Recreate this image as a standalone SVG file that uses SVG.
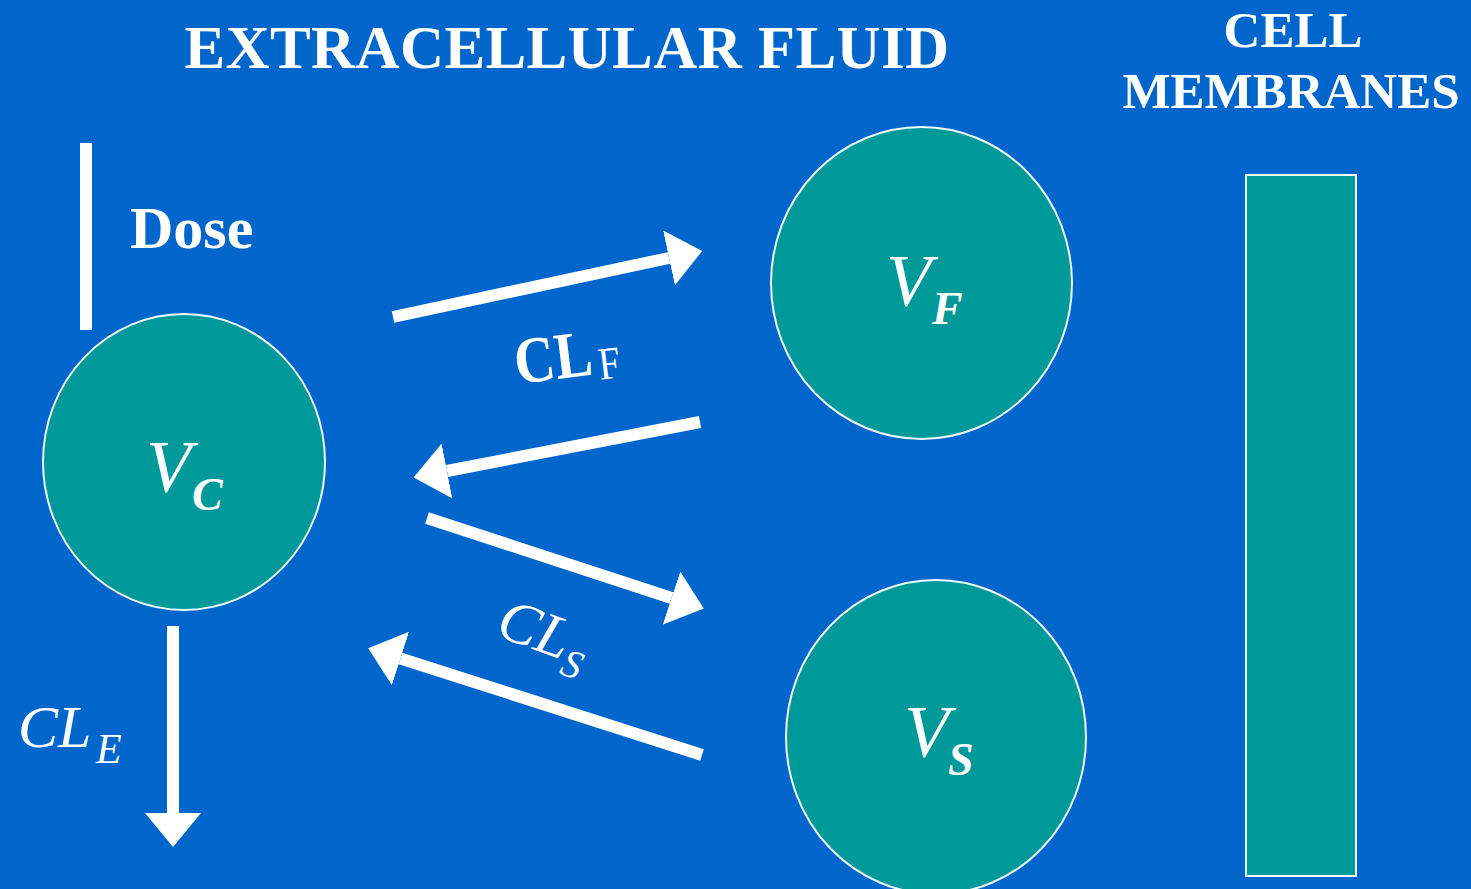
<svg xmlns="http://www.w3.org/2000/svg" width="1471" height="889" viewBox="0 0 1471 889">
<defs>
<style>
.bg{fill:#0066CC}
.comp{fill:#009999;stroke:#F0F8FF;stroke-width:2}
.conn{stroke:#FFFFFF;stroke-width:12;fill:none}
.t{font-family:"Liberation Serif","Times New Roman",serif;fill:#FFFFFF}
.b{font-weight:bold}
.i{font-style:italic}
</style>
<marker id="ah" markerUnits="userSpaceOnUse" viewBox="0 0 34 56" refX="0" refY="28" markerWidth="34" markerHeight="56" orient="auto">
<path d="M0,0 L34,28 L0,56 Z" fill="#FFFFFF"/>
</marker>
</defs>
<rect class="bg" x="0" y="0" width="1471" height="889"/>
<g id="labels">
<text class="t b" x="567" y="68" font-size="61" text-anchor="middle" letter-spacing="0.4">EXTRACELLULAR FLUID</text>
<text class="t b" x="1293" y="47" font-size="51" text-anchor="middle">CELL</text>
<text class="t b" x="1291" y="108" font-size="51" text-anchor="middle">MEMBRANES</text>
</g>
<g id="dose">
<line class="conn" x1="86" y1="143" x2="86" y2="330"/>
<text class="t b" x="130" y="248" font-size="60">Dose</text>
</g>
<g id="vc">
<ellipse class="comp" cx="184" cy="462" rx="141" ry="148"/>
<text class="t i" x="146" y="492" font-size="74">V</text>
<text class="t i b" x="192" y="510" font-size="46">C</text>
</g>
<g id="vf">
<ellipse class="comp" cx="921.5" cy="283" rx="150.5" ry="156"/>
<text class="t i" x="886" y="306" font-size="74">V</text>
<text class="t i b" x="932" y="324" font-size="46">F</text>
</g>
<g id="vs">
<ellipse class="comp" cx="936" cy="737" rx="150" ry="157"/>
<text class="t i" x="904" y="757" font-size="74">V</text>
<text class="t i b" x="948" y="775" font-size="46">S</text>
</g>
<g id="membrane">
<rect class="comp" x="1246" y="175" width="110" height="701"/>
</g>
<g id="connectors">
<line class="conn" x1="393" y1="317" x2="669" y2="258" marker-end="url(#ah)"/>
<line class="conn" x1="700" y1="422" x2="447" y2="471" marker-end="url(#ah)"/>
<line class="conn" x1="427" y1="518" x2="671.5" y2="598" marker-end="url(#ah)"/>
<line class="conn" x1="702" y1="755" x2="400.5" y2="658.5" marker-end="url(#ah)"/>
<line class="conn" x1="173" y1="626" x2="173" y2="813" marker-end="url(#ah)"/>
</g>
<g id="clf">
<text class="t b" transform="translate(517,384) rotate(-7) scale(0.85,1)" font-size="66">CL<tspan font-weight="normal" font-size="46" dy="6" dx="6">F</tspan></text>
</g>
<g id="cls">
<text class="t i" transform="translate(494,635) rotate(20)" font-size="60">CL<tspan font-size="40" dy="14">S</tspan></text>
</g>
<g id="cle">
<text class="t i" x="18" y="747" font-size="60">CL<tspan font-size="42" x="96" y="763">E</tspan></text>
</g>
</svg>
